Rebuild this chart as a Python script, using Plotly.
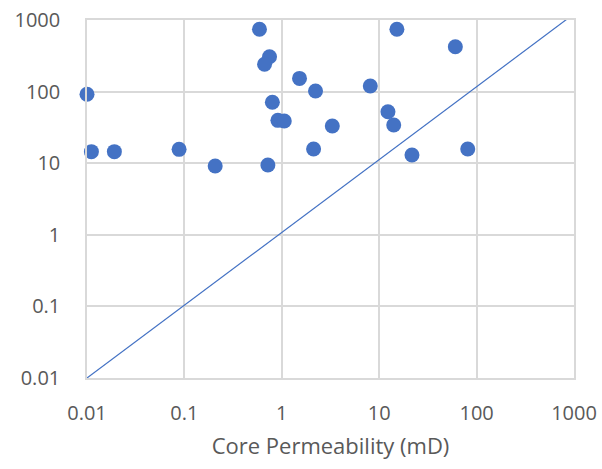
import plotly.graph_objects as go

# Core permeability (x, mD) vs. the second permeability estimate (y)
core_perm = [0.01, 0.0111, 0.0191, 0.0882, 0.207,
             0.59, 0.748, 0.665, 1.52, 2.22, 0.80, 0.912, 1.06, 3.30,
             2.12, 0.72, 8.1,
             15.2, 60.5, 12.3, 14.1, 21.7, 81.1]
other_perm = [92, 14.5, 14.5, 15.6, 9.14,
              741, 307, 241, 153, 102, 71, 39.7, 38.9, 33.1,
              15.8, 9.44, 120,
              741, 424, 52.4, 34.2, 13.0, 15.8]

# reference line (nearly 1:1)
line_x = [0.01, 880]
line_y = [0.01, 1070]

tick_vals = [0.01, 0.1, 1, 10, 100, 1000]
tick_text = ["0.01", "0.1", "1", "10", "100", "1000"]

blue = "#4472C4"
grid = "#D9D9D9"
font_color = "#595959"

fig = go.Figure()
fig.add_trace(go.Scatter(x=line_x, y=line_y, mode="lines",
                         line=dict(color=blue, width=1.2),
                         hoverinfo="skip", showlegend=False))
fig.add_trace(go.Scatter(x=core_perm, y=other_perm, mode="markers",
                         marker=dict(color=blue, size=15, line=dict(width=0)),
                         cliponaxis=False, showlegend=False))

axis_common = dict(type="log", tickvals=tick_vals, ticktext=tick_text,
                   showgrid=True, gridcolor=grid, gridwidth=1.5,
                   showline=True, linecolor=grid, linewidth=1.5, mirror=True,
                   zeroline=False, ticks="outside", tickcolor="rgba(0,0,0,0)",
                   automargin=False,
                   tickfont=dict(family="Open Sans", size=20, color=font_color))

fig.update_xaxes(range=[-2, 3], ticklen=16,
                 title=dict(text="Core Permeability (mD)",
                            font=dict(family="Open Sans", size=22, color=font_color),
                            standoff=14),
                 **axis_common)
fig.update_yaxes(range=[-2, 3], ticklen=21, **axis_common)

fig.update_layout(width=602, height=469,
                  margin=dict(l=87, r=28, t=20, b=91),
                  paper_bgcolor="white", plot_bgcolor="white")

fig.write_html("out.html")
